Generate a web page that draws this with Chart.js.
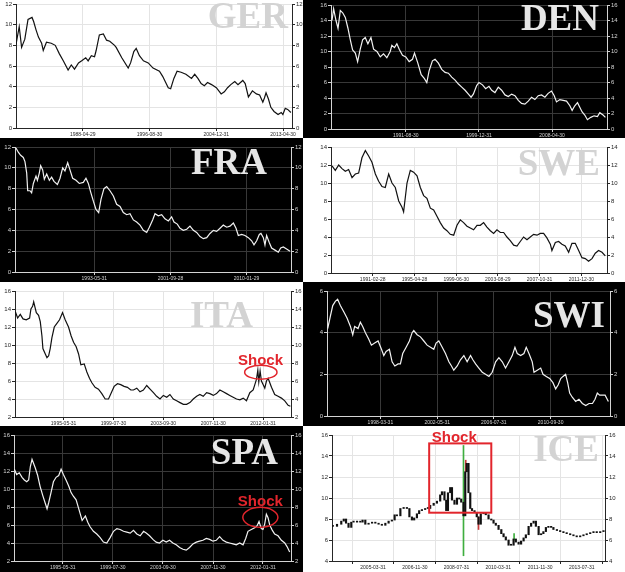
<!DOCTYPE html>
<html>
<head>
<meta charset="utf-8">
<script src="https://cdn.jsdelivr.net/npm/chart.js"></script>
<style>
  body { margin: 0; background: #000; width: 625px; height: 572px; overflow: hidden; }
  .panel { position: absolute; }
  .panel canvas { display: block; }
</style>
</head>
<body>
<script>
// 10y government bond yields, dates as decimal years
var gerDates = [1980.0,1980.4,1980.7,1981.1,1981.5,1982.0,1982.2,1982.5,1982.8,1983.2,
  1983.4,1983.8,1984.4,1984.9,1985.4,1985.9,1986.5,1986.9,1987.3,1987.8,
  1988.2,1988.7,1989.0,1989.4,1989.8,1990.0,1990.4,1990.9,1991.3,1991.7,
  1992.3,1992.5,1993.2,1994.0,1994.3,1994.7,1995.0,1995.4,1995.9,1996.5,
  1997.1,1997.9,1998.3,1999.0,1999.3,1999.7,2000.1,2000.6,2001.2,2001.9,
  2002.3,2002.7,2003.1,2003.5,2003.9,2004.4,2005.0,2005.6,2006.0,2006.4,
  2006.8,2007.3,2007.7,2008.3,2008.6,2009.0,2009.5,2010.0,2010.4,2010.8,
  2011.0,2011.2,2011.5,2011.8,2012.2,2012.7,2013.1,2013.3,2013.6,2013.9,2014.3];
var gerYields = [8.1,9.8,7.8,8.6,10.5,10.7,10.3,9.5,8.8,8.2,
  7.5,8.3,8.2,8.0,7.2,6.5,5.6,6.1,5.7,6.3,
  6.5,6.8,6.5,7.0,6.9,7.5,9.0,9.1,8.5,8.4,
  8.0,7.8,6.8,5.8,6.3,7.4,7.7,7.0,6.5,6.3,
  5.8,5.5,5.0,3.9,3.8,4.8,5.5,5.4,5.2,4.8,
  5.2,4.8,4.3,4.1,4.4,4.2,3.9,3.3,3.5,3.9,
  4.2,4.5,4.2,4.6,4.3,3.0,3.6,3.3,3.2,2.5,
  2.9,3.4,2.8,2.0,1.6,1.3,1.5,1.3,1.9,1.8,1.5];
var gerTickAt = [1988.33, 1996.67, 2005.0, 2013.33];
var gerTickLabels = ['1988-04-29', '1996-08-30', '2004-12-31', '2013-04-30'];

var denDates = [1983.26,1983.45,1983.72,1983.95,1984.21,1984.48,1984.78,1985.08,1985.35,1985.61,
  1985.92,1986.18,1986.48,1986.75,1987.05,1987.35,1987.70,1988.0,1988.38,1988.76,
  1989.13,1989.51,1989.89,1990.08,1990.38,1990.65,1990.92,1991.29,1991.67,1992.05,
  1992.43,1992.66,1993.04,1993.42,1993.79,1994.06,1994.32,1994.70,1995.0,1995.38,
  1995.76,1996.14,1996.52,1996.90,1997.28,1997.66,1998.04,1998.42,1998.87,1999.10,
  1999.36,1999.74,2000.0,2000.40,2000.76,2001.14,2001.45,2001.82,2002.2,2002.58,
  2002.96,2003.34,2003.72,2004.10,2004.48,2004.85,2005.23,2005.61,2005.99,2006.37,
  2006.75,2007.13,2007.51,2007.88,2008.26,2008.57,2008.83,2009.21,2009.59,2009.97,
  2010.35,2010.61,2010.91,2011.22,2011.48,2011.75,2012.05,2012.35,2012.73,2013.11,
  2013.49,2013.76,2014.13,2014.40];
var denYields = [14.0,15.5,14.0,13.0,15.3,15.0,14.4,13.0,11.5,10.2,
  9.8,8.7,10.3,11.5,11.8,11.0,11.8,10.3,10.0,9.3,
  9.7,9.2,10.0,10.8,10.5,11.0,10.3,9.5,9.3,8.7,
  9.0,9.8,8.5,7.0,6.5,6.0,7.5,8.8,9.0,8.5,
  7.7,7.3,7.2,6.7,6.3,5.8,5.4,5.0,4.4,4.1,
  4.5,5.6,6.0,5.7,5.2,5.5,5.0,4.7,5.4,5.0,
  4.4,4.2,4.5,4.3,3.7,3.3,3.2,3.6,4.1,3.8,
  4.3,4.4,4.1,4.6,4.9,4.3,3.5,3.8,3.7,3.6,
  3.0,2.4,3.0,3.4,2.8,2.2,1.8,1.2,1.5,1.7,
  1.6,2.1,1.8,1.5];
var denTickAt = [1991.67, 2000.0, 2008.33];
var denTickLabels = ['1991-08-30', '1999-12-31', '2008-04-30'];

var fraDates = [1984.84,1985.09,1985.35,1985.64,1985.82,1986.01,1986.12,1986.37,1986.55,1986.74,
  1987.03,1987.18,1987.39,1987.54,1987.76,1987.94,1988.20,1988.49,1988.74,1989.0,
  1989.37,1989.66,1989.95,1990.20,1990.50,1990.75,1991.04,1991.41,1991.77,1992.21,
  1992.50,1992.76,1993.01,1993.31,1993.60,1993.89,1994.15,1994.47,1994.77,1995.13,
  1995.50,1995.86,1996.23,1996.59,1996.96,1997.32,1997.69,1998.05,1998.42,1998.78,
  1999.15,1999.44,1999.80,2000.06,2000.42,2000.79,2001.15,2001.52,2001.88,2002.14,
  2002.50,2002.80,2003.16,2003.53,2003.89,2004.26,2004.62,2004.99,2005.35,2005.72,
  2006.08,2006.45,2006.81,2007.18,2007.54,2007.91,2008.27,2008.64,2008.93,2009.18,
  2009.55,2009.91,2010.28,2010.64,2010.90,2011.19,2011.48,2011.66,2011.92,2012.10,
  2012.28,2012.58,2012.83,2013.20,2013.56,2013.82,2014.11,2014.47,2014.84];
var fraYields = [11.9,11.5,11.2,11.0,10.6,9.5,7.8,7.8,7.6,8.5,
  9.2,8.8,9.5,10.2,9.8,8.9,9.4,8.8,9.1,8.7,
  8.4,9.0,10.0,9.7,10.5,9.8,9.0,8.8,8.5,8.6,
  9.0,8.5,7.7,6.8,6.0,5.7,7.0,8.0,8.2,7.8,
  7.3,6.5,6.3,5.7,5.5,5.6,5.0,4.8,4.5,4.0,
  3.8,4.3,5.0,5.6,5.4,5.5,5.1,4.9,5.3,4.8,
  4.6,4.2,4.0,4.1,4.4,4.0,3.8,3.4,3.2,3.3,
  3.7,4.0,3.9,4.2,4.5,4.3,4.4,4.7,4.2,3.5,
  3.6,3.5,3.3,3.0,2.6,3.0,3.6,3.7,3.3,2.6,
  3.5,2.8,2.3,2.1,1.9,2.3,2.4,2.2,2.0];
var fraTickAt = [1993.42, 2001.75, 2010.08];
var fraTickLabels = ['1993-05-31', '2001-09-28', '2010-01-29'];

var sweDates = [1987.10,1987.43,1987.77,1988.10,1988.43,1988.76,1989.10,1989.43,1989.76,1990.09,
  1990.43,1990.76,1991.09,1991.43,1991.76,1992.09,1992.42,1992.76,1993.09,1993.42,
  1993.76,1994.09,1994.25,1994.59,1994.92,1995.25,1995.59,1995.92,1996.25,1996.58,
  1996.92,1997.25,1997.58,1997.91,1998.25,1998.58,1998.91,1999.25,1999.58,1999.91,
  2000.24,2000.58,2000.91,2001.24,2001.58,2001.91,2002.24,2002.57,2002.91,2003.24,
  2003.57,2003.91,2004.24,2004.57,2004.90,2005.24,2005.57,2005.90,2006.23,2006.57,
  2006.90,2007.23,2007.57,2007.90,2008.23,2008.56,2008.90,2009.06,2009.40,2009.73,
  2010.06,2010.39,2010.73,2011.06,2011.39,2011.73,2012.06,2012.39,2012.72,2013.06,
  2013.39,2013.72,2014.06,2014.39];
var sweYields = [11.9,11.4,12.0,11.6,11.3,11.5,10.6,11.0,11.1,12.8,
  13.6,13.0,12.3,11.0,10.2,9.6,9.5,11.0,10.0,9.5,
  8.0,7.3,6.8,10.0,11.4,11.2,10.8,9.5,8.6,8.3,
  7.2,7.0,6.3,5.6,5.0,4.7,4.3,4.2,5.3,5.9,
  5.6,5.2,5.0,4.8,5.3,5.3,5.6,5.1,4.7,4.4,
  4.8,4.5,4.5,4.0,3.6,3.1,3.0,3.5,4.0,3.7,
  4.0,4.3,4.2,4.4,4.4,3.9,3.2,2.5,3.4,3.5,
  3.2,3.0,2.3,3.3,3.3,2.5,1.7,1.6,1.3,1.6,
  2.2,2.5,2.3,1.9];
var sweTickAt = [1991.16, 1995.33, 1999.5, 2003.66, 2007.83, 2012.0];
var sweTickLabels = ['1991-02-28', '1995-04-28', '1999-06-30', '2003-08-29', '2007-10-31', '2011-12-30'];

var itaDates = [1991.39,1991.58,1991.80,1992.03,1992.30,1992.58,1992.69,1992.83,1992.92,1993.14,
  1993.33,1993.47,1993.61,1993.69,1993.89,1994.03,1994.17,1994.30,1994.44,1994.64,
  1994.86,1995.08,1995.33,1995.55,1995.83,1996.05,1996.25,1996.47,1996.67,1996.86,
  1997.14,1997.36,1997.58,1997.78,1998.05,1998.33,1998.61,1998.89,1999.17,1999.44,
  1999.64,1999.92,2000.19,2000.47,2000.75,2001.03,2001.25,2001.53,2001.80,2002.08,
  2002.36,2002.64,2002.92,2003.19,2003.47,2003.75,2004.03,2004.30,2004.58,2004.86,
  2005.14,2005.42,2005.69,2005.97,2006.25,2006.53,2006.80,2007.08,2007.36,2007.64,
  2007.92,2008.19,2008.47,2008.75,2009.03,2009.30,2009.58,2009.86,2010.14,2010.42,
  2010.69,2010.97,2011.25,2011.39,2011.53,2011.64,2011.72,2011.83,2011.94,2012.08,
  2012.22,2012.36,2012.50,2012.64,2012.78,2013.05,2013.33,2013.61,2013.89,2014.17,
  2014.36];
var itaYields = [13.7,13.0,13.4,12.9,12.8,13.0,14.0,14.3,14.8,13.6,
  13.3,12.6,11.0,9.6,9.0,8.6,8.8,9.6,10.8,12.0,
  12.4,12.8,13.6,12.8,12.0,11.0,10.3,9.8,9.0,7.8,
  7.9,7.0,6.3,5.8,5.3,5.1,4.6,4.0,4.0,4.8,
  5.4,5.7,5.6,5.4,5.3,5.0,5.0,5.2,4.8,5.0,
  5.5,5.1,4.7,4.3,4.0,4.4,4.2,4.5,4.0,3.8,
  3.6,3.4,3.4,3.6,4.0,4.3,4.5,4.3,4.7,4.6,
  4.4,4.6,5.0,4.8,4.6,4.4,4.2,4.0,3.9,4.1,
  3.8,4.7,5.0,5.6,6.2,7.2,5.9,7.1,6.0,5.6,
  5.2,6.0,6.3,5.8,5.3,4.5,4.3,4.1,3.8,3.3,
  3.2];
var itaTickAt = [1995.42, 1999.58, 2003.75, 2007.92, 2012.08];
var itaTickLabels = ['1995-05-31', '1999-07-30', '2003-09-30', '2007-11-30', '2012-01-31'];

var swiDates = [1994.38,1994.58,1994.75,1994.94,1995.11,1995.31,1995.56,1995.80,1996.05,1996.22,
  1996.36,1996.61,1996.78,1996.95,1997.15,1997.39,1997.59,1997.83,1998.08,1998.33,
  1998.50,1998.67,1998.91,1999.11,1999.31,1999.55,1999.72,1999.89,2000.14,2000.38,
  2000.58,2000.70,2000.95,2001.19,2001.44,2001.68,2001.93,2002.17,2002.34,2002.54,
  2002.79,2003.03,2003.28,2003.47,2003.64,2003.89,2004.13,2004.38,2004.62,2004.87,
  2005.04,2005.24,2005.48,2005.73,2005.97,2006.22,2006.46,2006.71,2006.95,2007.20,
  2007.44,2007.69,2007.93,2008.13,2008.30,2008.55,2008.79,2008.96,2009.16,2009.40,
  2009.53,2009.77,2010.02,2010.19,2010.43,2010.68,2010.92,2011.12,2011.31,2011.49,
  2011.66,2011.85,2012.00,2012.15,2012.34,2012.59,2012.83,2013.08,2013.33,2013.57,
  2013.82,2014.01,2014.18,2014.35,2014.55,2014.75,2014.99];
var swiYields = [4.2,4.8,5.3,5.5,5.6,5.3,5.0,4.7,4.3,3.9,
  4.3,4.2,4.5,4.3,4.0,3.7,3.4,3.5,3.6,3.2,
  2.9,3.1,3.2,2.6,2.4,2.5,2.5,3.0,3.3,3.6,
  4.0,4.1,3.9,3.8,3.6,3.4,3.3,3.2,3.5,3.6,
  3.3,3.0,2.6,2.4,2.2,2.4,2.7,2.9,2.6,2.9,
  2.7,2.5,2.3,2.1,2.0,1.9,2.1,2.6,2.8,2.6,
  2.3,2.6,2.9,3.3,3.0,2.9,3.0,3.3,3.0,2.6,
  2.1,2.2,2.3,2.0,1.9,1.8,1.6,1.3,1.5,1.8,
  1.9,2.0,1.6,1.1,0.9,0.7,0.8,0.6,0.5,0.6,
  0.6,0.8,1.1,1.0,1.0,1.0,0.7];
var swiTickAt = [1998.25, 2002.42, 2006.58, 2010.75];
var swiTickLabels = ['1998-03-31', '2002-05-31', '2006-07-31', '2010-09-30'];

var spaDates = [1991.39,1991.58,1991.80,1992.03,1992.22,1992.42,1992.58,1992.72,1992.86,1993.00,
  1993.14,1993.33,1993.53,1993.75,1993.94,1994.11,1994.25,1994.44,1994.64,1994.86,
  1995.08,1995.28,1995.47,1995.69,1995.92,1996.11,1996.30,1996.53,1996.75,1997.03,
  1997.30,1997.50,1997.69,1997.97,1998.25,1998.53,1998.80,1999.08,1999.36,1999.64,
  1999.92,2000.19,2000.47,2000.75,2001.03,2001.30,2001.58,2001.86,2002.14,2002.36,
  2002.64,2002.92,2003.19,2003.47,2003.75,2004.03,2004.30,2004.58,2004.86,2005.14,
  2005.42,2005.69,2005.97,2006.25,2006.53,2006.80,2007.08,2007.36,2007.64,2007.92,
  2008.19,2008.47,2008.75,2009.03,2009.30,2009.58,2009.86,2010.14,2010.42,2010.64,
  2010.83,2011.11,2011.39,2011.58,2011.75,2011.94,2012.08,2012.22,2012.36,2012.50,
  2012.64,2012.86,2013.05,2013.33,2013.61,2013.89,2014.08,2014.30];
var spaYields = [12.2,11.6,11.8,11.3,11.0,10.8,11.0,12.5,13.3,12.8,
  12.3,11.5,10.3,9.3,8.5,7.8,8.5,9.6,10.8,11.3,
  11.5,12.2,11.6,11.0,10.3,9.6,9.2,8.8,7.8,6.5,
  7.0,6.3,5.8,5.3,5.0,4.6,4.1,4.0,4.6,5.3,
  5.6,5.5,5.3,5.2,5.1,5.4,5.0,4.8,5.3,5.1,
  4.8,4.4,4.1,4.0,4.3,4.1,4.3,4.0,3.8,3.5,
  3.3,3.2,3.5,3.9,4.1,4.2,4.3,4.5,4.4,4.2,
  4.3,4.7,4.3,4.1,4.0,3.9,3.8,4.0,3.8,4.5,
  5.3,5.5,5.7,5.9,6.4,5.6,5.5,6.1,7.2,6.8,
  6.0,5.4,5.0,4.8,4.3,4.0,3.6,3.0];
var spaTickAt = itaTickAt;
var spaTickLabels = itaTickLabels;

// ICE is drawn as candles: body from previous close to close
var iceDates = [2003.64,2003.81,2003.98,2004.08,2004.17,2004.27,2004.38,2004.47,2004.61,2004.74,
  2004.83,2004.94,2005.07,2005.21,2005.34,2005.47,2005.60,2005.74,2005.87,2006.00,
  2006.11,2006.20,2006.34,2006.47,2006.60,2006.70,2006.80,2006.89,2007.00,2007.09,
  2007.20,2007.33,2007.44,2007.53,2007.67,2007.80,2007.93,2008.00,2008.10,2008.17,
  2008.24,2008.33,2008.40,2008.50,2008.60,2008.69,2008.77,2008.86,2008.93,2008.99,
  2009.06,2009.13,2009.20,2009.30,2009.39,2009.46,2009.55,2009.66,2009.75,2009.86,
  2009.97,2010.06,2010.15,2010.26,2010.37,2010.46,2010.55,2010.66,2010.76,2010.86,
  2010.95,2011.06,2011.16,2011.26,2011.35,2011.46,2011.56,2011.66,2011.75,2011.86,
  2011.96,2012.05,2012.15,2012.25,2012.36,2012.45,2012.59,2012.72,2012.85,2012.98,
  2013.12,2013.25,2013.38,2013.52,2013.65,2013.78,2013.92,2014.05,2014.18,2014.32,
  2014.45];
var iceClose = [7.3,7.5,7.8,8.0,7.6,7.2,7.7,7.8,7.7,7.7,
  7.9,7.5,7.6,7.7,7.6,7.5,7.4,7.6,7.8,7.9,
  8.4,8.3,9.0,9.1,9.0,8.2,7.9,8.1,8.5,8.8,
  8.9,9.0,9.0,9.3,9.5,9.7,10.3,10.6,9.8,8.8,
  10.5,11.0,9.8,9.4,10.0,9.9,9.6,8.3,12.5,13.3,
  10.5,9.0,8.8,8.6,8.2,7.5,8.5,8.6,8.4,8.0,
  7.9,7.6,7.4,7.0,6.6,6.3,6.0,5.5,5.5,6.1,
  5.8,5.6,5.9,6.2,6.5,7.3,7.6,7.8,7.3,6.5,
  6.6,6.8,7.2,7.3,7.2,7.0,6.9,6.8,6.7,6.6,
  6.5,6.4,6.3,6.4,6.5,6.6,6.7,6.8,6.7,6.8,
  6.8];
var iceWickDates = [2008.86, 2008.95, 2009.46, 2010.88];
var iceWickLow = [4.5, 12.5, 7.0, 6.0];
var iceWickHigh = [15.0, 13.6, 8.2, 6.6];
var iceTickAt = [2005.25, 2006.92, 2008.58, 2010.25, 2011.92, 2013.58];
var iceTickLabels = ['2005-03-31', '2006-11-30', '2008-07-31', '2010-03-31', '2011-11-30', '2013-07-31'];

var RED = '#e2252c';

// box: left, top, width, height   area: plot left, top, right, bottom inside the box
var panels = [
  { name: 'GER', dark: false, box: [0, 0, 303, 138], area: [16, 2, 292, 128], xr: [1980.0, 2014.44], yr: [0, 12],
    dates: gerDates, vals: gerYields, tickAt: gerTickAt, tickLabels: gerTickLabels, title: [288, 28] },
  { name: 'DEN', dark: true, box: [303, 0, 322, 138], area: [28, 5, 304, 129], xr: [1983.15, 2014.58], yr: [0, 16],
    dates: denDates, vals: denYields, tickAt: denTickAt, tickLabels: denTickLabels, title: [296, 30] },
  { name: 'FRA', dark: true, box: [0, 138, 303, 144], area: [15, 9, 291, 134], xr: [1984.73, 2014.95], yr: [0, 12],
    dates: fraDates, vals: fraYields, tickAt: fraTickAt, tickLabels: fraTickLabels, title: [267, 36] },
  { name: 'SWE', dark: false, box: [303, 138, 322, 144], area: [28, 9, 304, 135], xr: [1987.0, 2014.56], yr: [0, 14],
    dates: sweDates, vals: sweYields, tickAt: sweTickAt, tickLabels: sweTickLabels, title: [297, 37] },
  { name: 'ITA', dark: false, box: [0, 282, 303, 144], area: [15, 9, 291, 135], xr: [1991.36, 2014.41], yr: [2, 16],
    dates: itaDates, vals: itaYields, tickAt: itaTickAt, tickLabels: itaTickLabels, title: [253, 45],
    shock: { kind: 'ellipse', cx: 2011.89, cy: 6.98, rx: 1.35, ry: 0.78, tx: 2011.86, ty: 7.76 } },
  { name: 'SWI', dark: true, box: [303, 282, 322, 144], area: [24, 9, 307, 134], xr: [1994.33, 2015.11], yr: [0, 6],
    dates: swiDates, vals: swiYields, tickAt: swiTickAt, tickLabels: swiTickLabels, title: [302, 45] },
  { name: 'SPA', dark: true, box: [0, 426, 303, 146], area: [14, 9, 291, 135], xr: [1991.36, 2014.41], yr: [2, 16],
    dates: spaDates, vals: spaYields, tickAt: spaTickAt, tickLabels: spaTickLabels, title: [278, 38],
    shock: { kind: 'ellipse', cx: 2011.86, cy: 6.85, rx: 1.46, ry: 1.11, tx: 2011.86, ty: 8.15 } },
  { name: 'ICE', dark: false, box: [303, 426, 322, 146], area: [29, 9, 302, 135], xr: [2003.61, 2014.51], yr: [4, 16],
    candles: true, dates: iceDates, vals: iceClose, tickAt: iceTickAt, tickLabels: iceTickLabels, title: [296, 35],
    shock: { kind: 'rect', x0: 2007.49, x1: 2009.97, y0: 8.6, y1: 15.2, tx: 2008.49, ty: 15.3 } }
];

function makePanel(p) {
  var W = p.box[2], H = p.box[3];
  var div = document.createElement('div');
  div.className = 'panel';
  div.style.left = p.box[0] + 'px';
  div.style.top = p.box[1] + 'px';
  div.style.width = W + 'px';
  div.style.height = H + 'px';
  div.style.background = p.dark ? '#000' : '#fff';
  var cv = document.createElement('canvas');
  cv.width = W;
  cv.height = H;
  div.appendChild(cv);
  document.body.appendChild(div);

  var fg = p.dark ? '#d4d4d4' : '#262626';
  var gridCol = p.dark ? '#383838' : '#e4e4e4';
  var ink = p.dark ? '#f2f2f2' : '#111';

  var datasets = [];
  if (p.candles) {
    datasets.push({
      type: 'bar', grouped: false, barThickness: 1.5, minBarLength: 1,
      backgroundColor: ink,
      data: p.dates.map(function (d, i) {
        var open = i > 0 ? p.vals[i - 1] : p.vals[i];
        return { x: d, y: [open, p.vals[i]] };
      })
    });
    datasets.push({
      type: 'bar', grouped: false, barThickness: 1,
      backgroundColor: ['#3fae3f', '#c83a3a', '#c83a3a', '#3fae3f'],
      data: iceWickDates.map(function (d, i) { return { x: d, y: [iceWickLow[i], iceWickHigh[i]] }; })
    });
  } else {
    datasets.push({
      type: 'line', borderColor: ink, borderWidth: 1.2, pointRadius: 0, tension: 0,
      data: p.dates.map(function (d, i) { return { x: d, y: p.vals[i] }; })
    });
  }

  var deco = {
    id: 'deco',
    beforeDatasetsDraw: function (chart) {
      var ctx = chart.ctx;
      ctx.save();
      ctx.font = 'bold 37px "Liberation Serif"';
      ctx.fillStyle = p.dark ? '#e6e6e6' : '#d3d3d3';
      ctx.textAlign = 'right';
      ctx.textBaseline = 'alphabetic';
      ctx.fillText(p.name, p.title[0], p.title[1]);
      ctx.restore();
    },
    afterDatasetsDraw: function (chart) {
      var s = p.shock;
      if (!s) return;
      var xs = chart.scales.x, ys = chart.scales.y, ctx = chart.ctx;
      ctx.save();
      ctx.strokeStyle = RED;
      ctx.fillStyle = RED;
      if (s.kind === 'ellipse') {
        var cx = xs.getPixelForValue(s.cx), cy = ys.getPixelForValue(s.cy);
        var rx = Math.abs(xs.getPixelForValue(s.cx + s.rx) - cx);
        var ry = Math.abs(ys.getPixelForValue(s.cy + s.ry) - cy);
        ctx.lineWidth = 1.5;
        ctx.beginPath();
        ctx.ellipse(cx, cy, rx, ry, 0, 0, Math.PI * 2);
        ctx.stroke();
      } else {
        var x0 = xs.getPixelForValue(s.x0), x1 = xs.getPixelForValue(s.x1);
        var y0 = ys.getPixelForValue(s.y0), y1 = ys.getPixelForValue(s.y1);
        ctx.lineWidth = 2;
        ctx.strokeRect(x0, y1, x1 - x0, y0 - y1);
      }
      ctx.font = 'bold 15px "Liberation Sans"';
      ctx.textAlign = 'center';
      ctx.textBaseline = 'alphabetic';
      ctx.fillText('Shock', xs.getPixelForValue(s.tx), ys.getPixelForValue(s.ty));
      ctx.restore();
    }
  };

  var yTicks = { stepSize: 2, color: fg, padding: 1, font: { family: 'Liberation Sans', size: 6, lineHeight: 1 } };

  new Chart(cv, {
    type: 'line',
    data: { datasets: datasets },
    options: {
      responsive: false,
      animation: false,
      events: [],
      layout: { padding: { top: p.area[1], left: 0, right: 0, bottom: 0 } },
      plugins: { legend: { display: false }, tooltip: { enabled: false } },
      scales: {
        x: {
          type: 'linear', min: p.xr[0], max: p.xr[1], offset: false,
          afterBuildTicks: function (s) { s.ticks = p.tickAt.map(function (v) { return { value: v }; }); },
          afterFit: function (s) { s.height = H - p.area[3]; },
          ticks: {
            autoSkip: false, maxRotation: 0, color: fg, padding: 1,
            font: { family: 'Liberation Sans', size: 5 },
            callback: function (v, i) { return p.tickLabels[i]; }
          },
          grid: { color: gridCol, tickColor: fg, tickLength: 3 },
          border: { color: fg }
        },
        y: {
          position: 'left', min: p.yr[0], max: p.yr[1],
          afterFit: function (s) { s.width = p.area[0]; },
          ticks: yTicks,
          grid: { color: gridCol, tickColor: fg, tickLength: 3 },
          border: { color: fg }
        },
        y2: {
          position: 'right', min: p.yr[0], max: p.yr[1],
          afterFit: function (s) { s.width = W - p.area[2]; },
          ticks: yTicks,
          grid: { drawOnChartArea: false, tickColor: fg, tickLength: 3 },
          border: { color: fg }
        }
      }
    },
    plugins: [deco]
  });
}

panels.forEach(makePanel);
</script>
</body>
</html>
